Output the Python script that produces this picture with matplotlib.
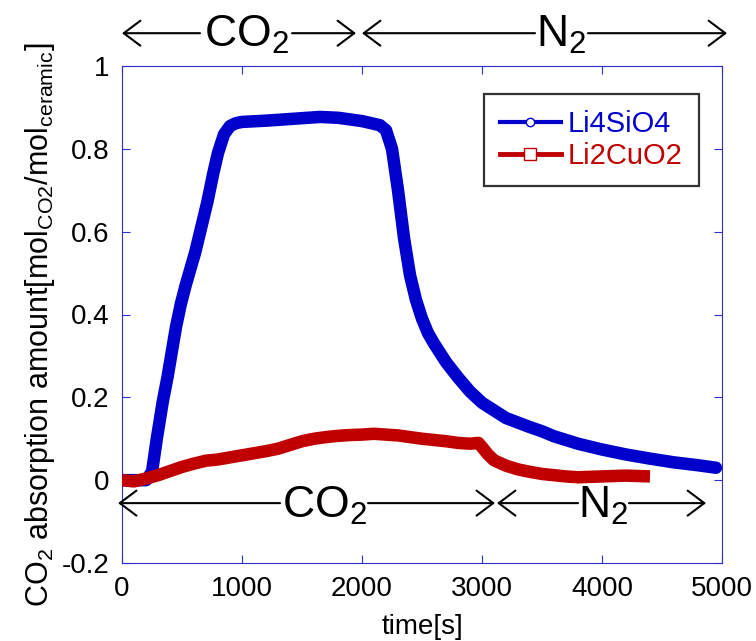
import matplotlib
matplotlib.use("Agg")
import matplotlib.pyplot as plt
from matplotlib.lines import Line2D

plt.rcParams['font.family'] = ['Liberation Sans', 'DejaVu Sans']
plt.rcParams['mathtext.fontset'] = 'custom'
plt.rcParams['mathtext.rm'] = 'Liberation Sans'
plt.rcParams['mathtext.it'] = 'Liberation Sans'
plt.rcParams['mathtext.bf'] = 'Liberation Sans'

# Li4SiO4 sorption / desorption curve
t_li4sio4 = [0, 100, 200, 250, 290, 340, 380, 415, 450, 490, 530, 570, 610, 660, 710,
             760, 800, 850, 900, 950, 1000, 1200, 1400, 1650, 1800, 2000, 2150, 2200,
             2250, 2300, 2350, 2400, 2450, 2500, 2550, 2600, 2700, 2800, 2900, 3000,
             3200, 3400, 3500, 3600, 3800, 4000, 4200, 4400, 4600, 4800, 4950]
y_li4sio4 = [0.0, 0.0, 0.0, 0.02, 0.10, 0.19, 0.25, 0.31, 0.37, 0.425, 0.47, 0.51, 0.55,
             0.61, 0.67, 0.74, 0.79, 0.835, 0.855, 0.862, 0.865, 0.868, 0.872, 0.877,
             0.875, 0.867, 0.857, 0.845, 0.80, 0.70, 0.585, 0.495, 0.435, 0.39, 0.355,
             0.33, 0.285, 0.248, 0.214, 0.187, 0.15, 0.128, 0.118, 0.106, 0.088, 0.074,
             0.062, 0.052, 0.043, 0.036, 0.030]

# Li2CuO2 sorption / desorption curve
t_li2cuo2 = [0, 100, 200, 300, 400, 500, 600, 700, 800, 900, 1000, 1100, 1200, 1300,
             1400, 1500, 1600, 1700, 1800, 1900, 2000, 2100, 2200, 2300, 2400, 2500,
             2600, 2700, 2800, 2900, 2970, 3000, 3050, 3100, 3200, 3300, 3400, 3500,
             3600, 3700, 3800, 3900, 4000, 4200, 4400]
y_li2cuo2 = [0.0, -0.003, 0.004, 0.012, 0.022, 0.032, 0.04, 0.047, 0.05, 0.055, 0.06,
             0.065, 0.07, 0.076, 0.085, 0.094, 0.1, 0.104, 0.107, 0.109, 0.11, 0.112,
             0.11, 0.108, 0.104, 0.1, 0.097, 0.094, 0.09, 0.088, 0.09, 0.08, 0.062,
             0.048, 0.035, 0.026, 0.02, 0.015, 0.012, 0.009, 0.007, 0.008, 0.009, 0.011,
             0.009]

series_labels = ['Li4SiO4', 'Li2CuO2']
series_colors = ['#0000CC', '#C00000']

x_ticks = [0, 1000, 2000, 3000, 4000, 5000]
y_ticks = [-0.2, 0, 0.2, 0.4, 0.6, 0.8, 1]
y_tick_labels = ['-0.2', '0', '0.2', '0.4', '0.6', '0.8', '1']

W, H = 756, 641
fig = plt.figure(figsize=(W / 100, H / 100), dpi=100)
ax = fig.add_axes([122 / W, 1 - 563 / H, 600 / W, 497 / H])

ax.plot(t_li4sio4, y_li4sio4, color=series_colors[0], lw=9, solid_capstyle='round',
        solid_joinstyle='round', zorder=3)
ax.plot(t_li2cuo2, y_li2cuo2, color=series_colors[1], lw=9, solid_capstyle='butt',
        solid_joinstyle='round', zorder=4)

ax.set_xlim(0, 5000)
ax.set_ylim(-0.2, 1)
ax.set_xticks(x_ticks)
ax.set_xticklabels([str(v) for v in x_ticks])
ax.set_yticks(y_ticks)
ax.set_yticklabels(y_tick_labels)

frame_color = '#2f2fd0'
for sp in ax.spines.values():
    sp.set_color(frame_color)
    sp.set_linewidth(0.8)
ax.tick_params(direction='in', length=6, width=0.8, color=frame_color,
               labelsize=20, top=True, right=True, pad=9)

# gas-switch arrows
arrow_kw = dict(arrowstyle='->,head_length=0.6,head_width=0.45', lw=1.5,
                color='black', shrinkA=0, shrinkB=0, mutation_scale=20)


def gas_arrow(y, text_x, label, y_text, trans, seg):
    (l0, l1), (r0, r1) = seg
    ax.annotate('', xy=(l0, y), xytext=(l1, y), xycoords=trans, textcoords=trans,
                arrowprops=arrow_kw, annotation_clip=False)
    ax.annotate('', xy=(r1, y), xytext=(r0, y), xycoords=trans, textcoords=trans,
                arrowprops=arrow_kw, annotation_clip=False)
    ax.text(text_x, y_text, label, transform=trans, ha='center', va='baseline',
            fontsize=32, clip_on=False)


top = ax.get_xaxis_transform()
gas_arrow(1.066, 1037, r'$\mathrm{CO_2}$', 1.038, top, ((0, 650), (1417, 1950)))
gas_arrow(1.066, 3660, r'$\mathrm{N_2}$', 1.038, top, ((2000, 3442), (3883, 5042)))
gas_arrow(-0.0554, 1690, r'$\mathrm{CO_2}$', -0.0916, ax.transData,
          ((-33, 1317), (2050, 3108)))
gas_arrow(-0.0554, 4010, r'$\mathrm{N_2}$', -0.0916, ax.transData,
          ((3125, 3800), (4225, 4867)))

# legend
handles = [
    Line2D([], [], color=series_colors[0], lw=3, marker='o', markersize=6,
           markerfacecolor='white', markeredgecolor=series_colors[0], markeredgewidth=1),
    Line2D([], [], color=series_colors[1], lw=3.5, marker='s', markersize=8.5,
           markerfacecolor='white', markeredgecolor=series_colors[1], markeredgewidth=1),
]
leg = fig.legend(handles, series_labels, loc='upper right',
                 bbox_to_anchor=(699 / W, 1 - 94 / H), fontsize=21, frameon=True,
                 fancybox=False, handlelength=2.1, handletextpad=0.25,
                 labelspacing=0.15, borderpad=0.55, borderaxespad=0)
leg.get_frame().set_edgecolor('black')
leg.get_frame().set_linewidth(1.6)
for txt, c in zip(leg.get_texts(), series_colors):
    txt.set_color(c)

fig.text(40 / W, 1 - 325 / H,
         r'$\mathrm{CO_2}$ absorption amount[mol$_\mathrm{CO2}$/mol$_\mathrm{ceramic}$]',
         rotation=90, ha='center', va='center', fontsize=22)
fig.text(422 / W, 1 - 634 / H, 'time[s]', ha='center', va='baseline', fontsize=20)

fig.savefig('out.png', dpi=100)
